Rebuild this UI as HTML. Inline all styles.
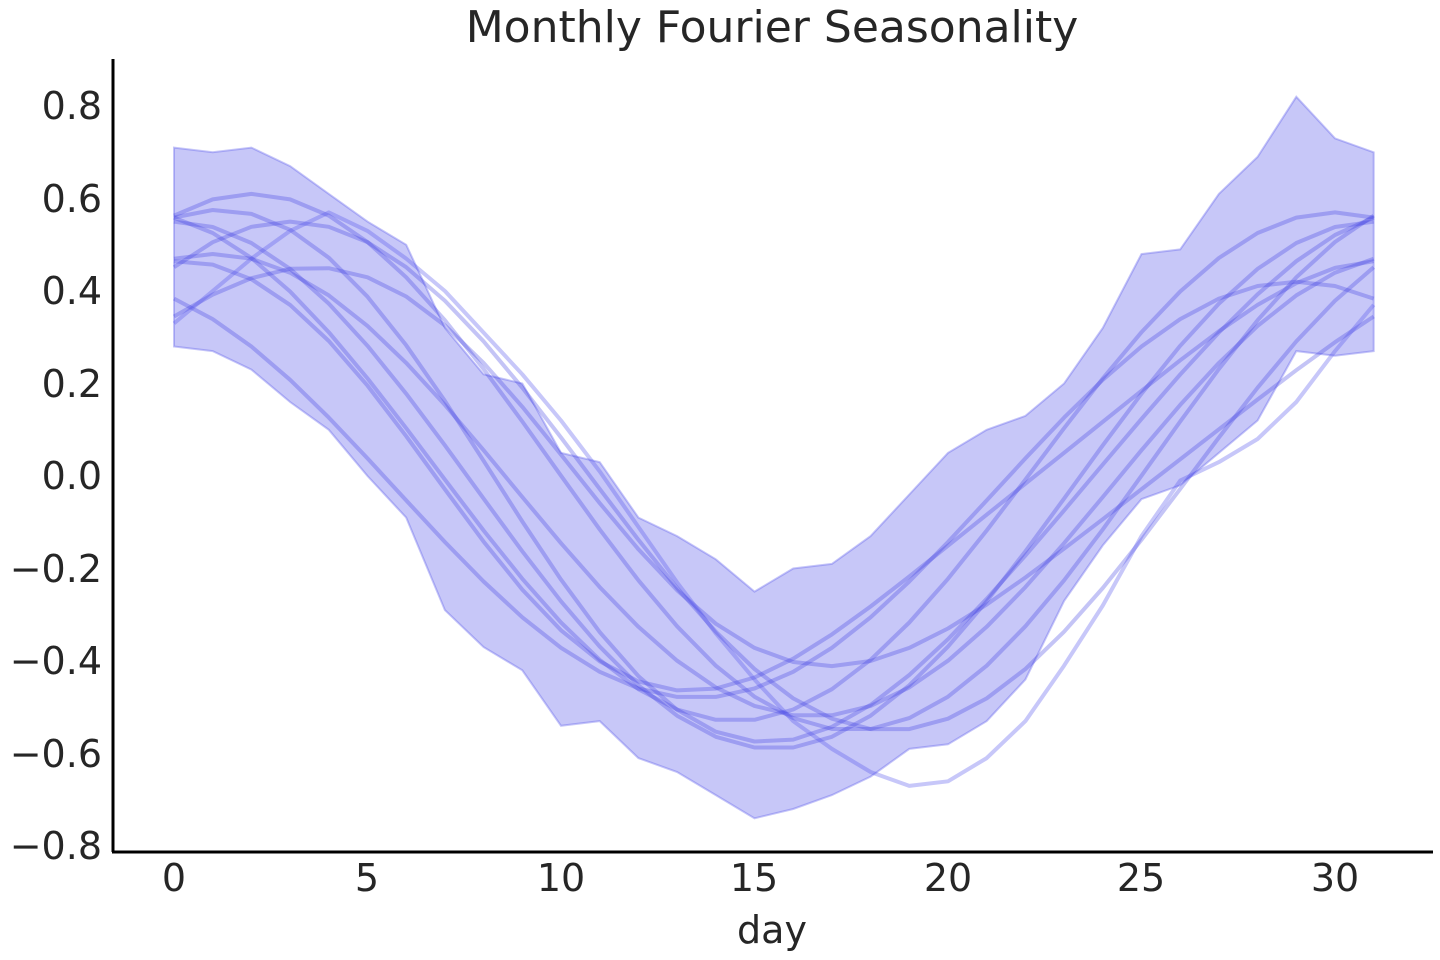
<!DOCTYPE html>
<html><head><meta charset="utf-8"><style>
html,body{margin:0;padding:0;background:#fff;}
svg{display:block;font-family:"DejaVu Sans","Liberation Sans",sans-serif;}
</style></head><body>
<svg id="s" width="1440" height="960" viewBox="0 0 1440 960">
<text x="772" y="42" font-size="44" fill="#262626" text-anchor="middle">Monthly Fourier Seasonality</text>
<g id="plot"></g>
<line x1="113" y1="59" x2="113" y2="852" stroke="#000" stroke-width="3"/>
<line x1="112" y1="852" x2="1433" y2="852" stroke="#000" stroke-width="3"/>
<g font-size="38" fill="#262626" text-anchor="end">
<text x="102" y="119">0.8</text><text x="102" y="212">0.6</text><text x="102" y="304">0.4</text>
<text x="102" y="397">0.2</text><text x="102" y="489">0.0</text><text x="102" y="582">−0.2</text>
<text x="102" y="674">−0.4</text><text x="102" y="767">−0.6</text><text x="102" y="859">−0.8</text>
</g>
<g font-size="38" fill="#262626" text-anchor="middle">
<text x="174" y="891">0</text><text x="367" y="891">5</text><text x="561" y="891">10</text>
<text x="754" y="891">15</text><text x="948" y="891">20</text><text x="1141" y="891">25</text><text x="1335" y="891">30</text>
<text x="772" y="943">day</text>
</g>
</svg>
<script>
var X=function(d){return 174+38.7*d;},Y=function(v){return 476-462.5*v;};
var up=[0.71,0.70,0.71,0.67,0.61,0.55,0.50,0.32,0.22,0.20,0.05,0.03,-0.09,-0.13,-0.18,-0.25,-0.20,-0.19,-0.13,-0.04,0.05,0.10,0.13,0.20,0.32,0.48,0.49,0.61,0.69,0.82,0.73,0.70];
var lo=[0.28,0.27,0.23,0.16,0.10,0.00,-0.09,-0.29,-0.37,-0.42,-0.54,-0.53,-0.61,-0.64,-0.69,-0.74,-0.72,-0.69,-0.65,-0.59,-0.58,-0.53,-0.44,-0.27,-0.15,-0.05,-0.02,0.05,0.12,0.27,0.26,0.27];
var light=[0.33,0.40,0.47,0.53,0.57,0.53,0.47,0.40,0.31,0.22,0.12,0.01,-0.11,-0.23,-0.34,-0.44,-0.53,-0.59,-0.64,-0.67,-0.66,-0.61,-0.53,-0.41,-0.28,-0.13,-0.01,0.03,0.08,0.16,0.27,0.37];
var g=document.getElementById('plot'),h='';
var pts=[];for(var i=0;i<32;i++)pts.push(X(i).toFixed(1)+','+Y(up[i]).toFixed(1));
for(var i=31;i>=0;i--)pts.push(X(i).toFixed(1)+','+Y(lo[i]).toFixed(1));
h+='<polygon points="'+pts.join(' ')+'" fill="rgba(100,100,235,0.36)" stroke="rgba(90,90,235,0.35)" stroke-width="2"/>';
var L=[[0,0.57,-0.02,0],[-1,0.55,0.02,0],[2,0.58,0.03,0],[3,0.55,0,0],[-2,0.45,-0.03,0],[-1,0.45,0,0.06],[1,0.5,-0.02,0],[0.5,0.57,0,0.04],[2.5,0.42,0.02,0.05]];
L.forEach(function(l){var p=[];for(var d=0;d<32;d++){var v=l[1]*Math.cos(2*Math.PI*(d-l[0])/31)+l[2]+l[3]*Math.sin(4*Math.PI*(d-l[0])/31);p.push(X(d).toFixed(1)+','+Y(v).toFixed(1));}
h+='<polyline points="'+p.join(' ')+'" fill="none" stroke="rgba(60,60,225,0.3)" stroke-width="4" stroke-linejoin="round"/>';});
var p=[];for(var d=0;d<32;d++)p.push(X(d).toFixed(1)+','+Y(light[d]).toFixed(1));
h+='<polyline points="'+p.join(' ')+'" fill="none" stroke="rgba(80,80,235,0.32)" stroke-width="4" stroke-linejoin="round"/>';
g.innerHTML=h;
</script>
</body></html>
